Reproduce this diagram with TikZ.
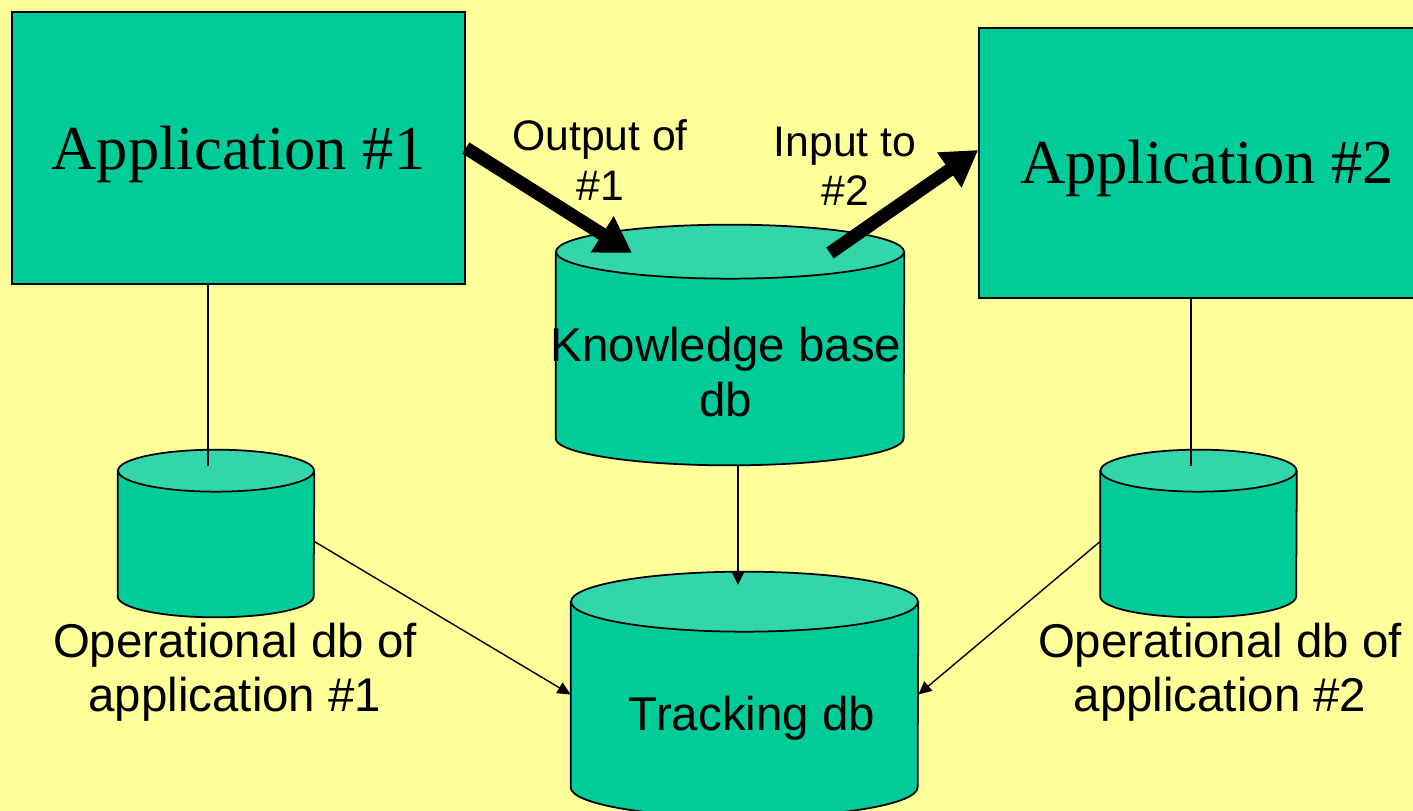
\documentclass[tikz,border=0pt]{standalone}
\usepackage{fontspec}
\setmainfont{Liberation Serif}
\setsansfont{Liberation Sans}
\usetikzlibrary{arrows.meta,positioning}

\definecolor{slidebg}{HTML}{FFFF99}
\definecolor{appgreen}{HTML}{00CC99}
\definecolor{dbtop}{HTML}{33D6AA}

% cylinder drawn over a db node: #1 node, #2 x radius, #3 y radius
\newcommand\dbshape[3]{%
  \filldraw[fill=appgreen, line width=1pt] ([yshift=-#3]#1.north west) -- ([yshift=#3]#1.south west)
    arc[start angle=180, end angle=360, x radius=#2, y radius=#3]
    -- ([yshift=-#3]#1.north east) -- cycle;
  \filldraw[fill=dbtop, line width=1pt] ([yshift=-#3]#1.north) ellipse[x radius=#2, y radius=#3];
}

\begin{document}
\begin{tikzpicture}[x=0.02cm, y=-0.02cm,
    app/.style={draw, fill=appgreen, line width=1pt, minimum width=9.06cm, minimum height=5.44cm, text height=33pt, text depth=8pt, font=\fontsize{35.6}{40}\selectfont},
    db/.style={rectangle, inner sep=0pt},
    lbl/.style={align=center, font=\sffamily\fontsize{27}{31}\selectfont},
    wire/.style={line width=0.8pt},
    feed/.style={wire, -{Triangle[length=7.5pt, width=7pt]}},
    flow/.style={line width=7.5pt, -{Triangle[length=20pt, width=23pt]}}
]

% page and frame
\fill[slidebg] (0,0) rectangle (1413,811);
\useasboundingbox (0,0) rectangle (1413,811);

% the two applications
\node[app] (app1) at (238.5,148) {Application \#1};
\node[app, minimum width=9.12cm, minimum height=5.4cm, text height=31pt] (app2) at (1207,163) {Application \#2};

% databases
\node[db, minimum width=6.96cm, minimum height=4.8cm] (kb) at (730,345) {};
\dbshape{kb}{3.48cm}{0.54cm}
\node[db, minimum width=3.92cm, minimum height=3.34cm] (op1) at (216,533.5) {};
\dbshape{op1}{1.96cm}{0.42cm}
\node[db, minimum width=3.92cm, minimum height=3.34cm] (op2) at (1198.5,533.5) {};
\dbshape{op2}{1.96cm}{0.42cm}
\node[db, minimum width=6.94cm, minimum height=4.9cm] (track) at (744.5,694.5) {};
\dbshape{track}{3.47cm}{0.6cm}

% texts
\node[lbl] (kbtxt) at (726,372) {Knowledge base\\db};
\node[lbl] (tracktxt) at (752,718) {Tracking db};
\node[lbl] (op1txt) at (235,672) {Operational db of\\application \#1};
\node[lbl] (op2txt) at (1220,672) {Operational db of\\application \#2};
\node[lbl, font=\sffamily\fontsize{24.3}{28}\selectfont] (outtxt) at (600,160) {Output of\\\#1};
\node[lbl, font=\sffamily\fontsize{24.3}{28}\selectfont] (intxt) at (845,166) {Input to\\\#2};

% free ends of the links
\coordinate (op1-in) at (208,466);
\coordinate (op2-in) at (1191,466);
\coordinate (kb-drop) at (738,585);
\coordinate (kb-in) at (632,253);
\coordinate (kb-out) at (830,253);

% application -> its operational db
\draw[wire] (op1-in |- app1.south) -- (op1-in);
\draw[wire] (op2-in |- app2.south) -- (op2-in);

% everything ends up in the tracking db
\draw[feed] (kb-drop |- kb.south) -- (kb-drop);
\draw[feed] ([yshift=-0.16cm]op1.east) -- (track.west);
\draw[feed] ([yshift=-0.16cm]op2.west) -- (track.east);

% knowledge passed from #1 to #2
\draw[flow] (app1.east) -- (kb-in);
\draw[flow] (kb-out) -- ([yshift=0.26cm]app2.west);

\end{tikzpicture}
\end{document}
